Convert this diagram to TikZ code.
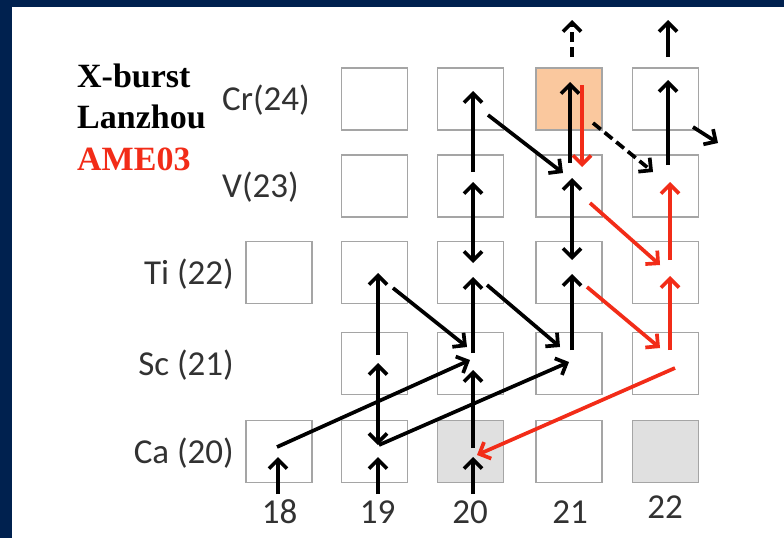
\documentclass[tikz,border=0pt]{standalone}
\usepackage{fontspec}
\setmainfont{Liberation Serif}
\newfontfamily\labfont{Carlito}
\usetikzlibrary{arrows.meta,calc}
\definecolor{navy}{RGB}{0,33,79}
\definecolor{boxgrey}{RGB}{165,165,165}
\definecolor{lightfill}{RGB}{224,224,224}
\definecolor{peach}{RGB}{250,200,158}
\definecolor{myred}{RGB}{242,44,24}
\definecolor{labgrey}{RGB}{50,50,50}
\tikzset{
  ab/.tip={Straight Barb[length=9pt,width=18pt]},
  cell/.style={draw=boxgrey,line width=1.8pt,fill=white,minimum width=66pt,minimum height=62pt,inner sep=0pt},
  con/.style={line width=3.7pt,-ab},
  dcon/.style={line width=3.7pt,ab-ab},
  dashpat/.style={dash pattern=on 10pt off 5pt},
  lab/.style={font=\labfont\fontsize{35}{40}\selectfont,text=labgrey,inner sep=0pt},
  ttl/.style={font=\bfseries\fontsize{34}{40}\selectfont,inner sep=0pt}
}
\begin{document}
\begin{tikzpicture}[x=1pt,y=-1pt]
\useasboundingbox (0,0) rectangle (784,538);
\fill[white] (0,0) rectangle (784,538);
\fill[navy] (0,0) rectangle (12,538);
\fill[navy] (0,0) rectangle (784,7);

% cells
\node[cell] (cr19) at (374.5,99) {};
\node[cell] (cr20) at (470.5,99) {};
\node[cell,fill=peach] (cr21) at (569,99) {};
\node[cell] (cr22) at (665.5,99) {};
\node[cell] (v19) at (374.5,186) {};
\node[cell] (v20) at (470.5,186) {};
\node[cell] (v21) at (569,186) {};
\node[cell] (v22) at (665.5,186) {};
\node[cell] (ti18) at (279,272.5) {};
\node[cell] (ti19) at (374.5,272.5) {};
\node[cell] (ti20) at (470.5,272.5) {};
\node[cell] (ti21) at (569,272.5) {};
\node[cell] (ti22) at (665.5,272.5) {};
\node[cell] (sc19) at (374.5,363.5) {};
\node[cell] (sc20) at (470.5,363.5) {};
\node[cell] (sc21) at (569,363.5) {};
\node[cell] (sc22) at (665.5,363.5) {};
\node[cell] (ca18) at (279,451.5) {};
\node[cell] (ca19) at (374.5,451.5) {};
\node[cell,fill=lightfill] (ca20) at (470.5,451.5) {};
\node[cell] (ca21) at (569,451.5) {};
\node[cell,fill=lightfill] (ca22) at (665.5,451.5) {};

% row labels
\node[lab,anchor=base west] (lcr) at (222,110.5) {Cr(24)};
\node[lab,anchor=base west] (lv) at (222,197.5) {V(23)};
\node[lab,anchor=base east] (lti) at (234,284) {Ti (22)};
\node[lab,anchor=base east] (lsc) at (234,375) {Sc (21)};
\node[lab,anchor=base east] (lca) at (234,463) {Ca (20)};

% column labels
\node[lab,anchor=base] (n18) at (279.5,523) {18};
\node[lab,anchor=base] (n19) at (377.5,523) {19};
\node[lab,anchor=base] (n20) at (470,523) {20};
\node[lab,anchor=base] (n21) at (570,523) {21};
\node[lab,anchor=base] (n22) at (665,518) {22};

% titles
\node[ttl,anchor=base west] (t1) at (77,87) {X-burst};
\node[ttl,anchor=base west] (t2) at (77,128) {Lanzhou};
\node[ttl,anchor=base west,text=myred] (t3) at (77,170) {AME03};

% black paths
\draw[con] ($(ca18)+(-1,42.5)$) -- ($(ca18)+(-1,5.5)$);
\draw[con] ($(ca19)+(3.5,42.5)$) -- ($(ca19)+(3.5,5.5)$);
\draw[con] ($(ca20)+(2.5,42.5)$) -- ($(ca20)+(2.5,5.5)$);
\draw[con] ($(ca18)+(-2,-4.5)$) -- ($(sc20)+(-0.5,-3.5)$);
\draw[con] ($(ca19)+(4.5,-6.5)$) -- ($(sc21)+(0,-1.5)$);
\draw[dcon] ($(sc19)+(3.5,-0.5)$) -- ($(ca19)+(3.5,-6.5)$);
\draw[con] ($(sc19)+(3.5,-8.5)$) -- ($(ti19)+(3.5,0.5)$);
\draw[con] ($(ti19)+(18.5,15.5)$) -- ($(sc20)+(-3.5,-16.5)$);
\draw[con] ($(ca20)+(2.5,-3.5)$) -- ($(sc20)+(2.5,6.5)$);
\draw[con] ($(sc20)+(2.5,-10.5)$) -- ($(ti20)+(2.5,4.5)$);
\draw[dcon] ($(ti20)+(2.5,-9.5)$) -- ($(v20)+(2.5,-4)$);
\draw[con] ($(v20)+(2.5,-14)$) -- ($(cr20)+(2.5,-8)$);
\draw[con] ($(cr20)+(17.5,16)$) -- ($(v21)+(-6,-13)$);
\draw[con] ($(ti20)+(16.5,12.5)$) -- ($(sc21)+(-9,-16.5)$);
\draw[con] ($(v21)+(1,-23)$) -- ($(cr21)+(1,-17)$);
\draw[con,dashpat] ($(cr21)+(3,-42)$) -- ($(cr21)+(3,-79)$);
\draw[con] ($(cr22)+(2.5,-42)$) -- ($(cr22)+(2.5,-79)$);
\draw[con,dashpat] ($(cr21)+(24,24)$) -- ($(v22)+(-12.5,-14)$);
\draw[con] ($(v22)+(2.5,-21)$) -- ($(cr22)+(2.5,-19)$);
\draw[con] ($(cr22)+(27.5,28)$) -- ($(cr22)+(52.5,44)$);
\draw[dcon] ($(v21)+(3,-8)$) -- ($(ti21)+(3,-12.5)$);
\draw[con] ($(sc21)+(3,-13.5)$) -- ($(ti21)+(3,1.5)$);

% red paths
\draw[con,myred] ($(cr21)+(13,-14)$) -- ($(v21)+(13,-19)$);
\draw[con,myred] ($(v21)+(21,17)$) -- ($(ti22)+(-5.5,-7.5)$);
\draw[con,myred] ($(ti21)+(18,14.5)$) -- ($(sc22)+(-5.5,-15.5)$);
\draw[con,myred] ($(ti22)+(4.5,-12.5)$) -- ($(v22)+(4.5,-4)$);
\draw[con,myred] ($(sc22)+(4.5,-13.5)$) -- ($(ti22)+(4.5,3.5)$);
\draw[con,myred] ($(sc22)+(9.5,4.5)$) -- ($(ca20)+(6.5,3.5)$);
\end{tikzpicture}
\end{document}
